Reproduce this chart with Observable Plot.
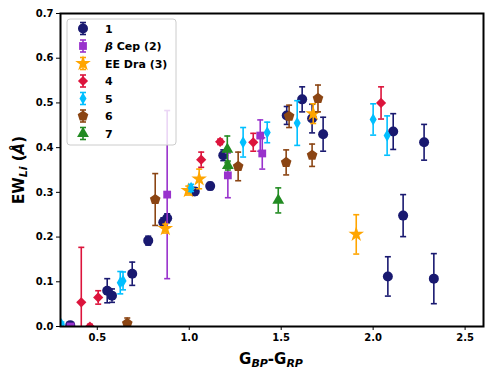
<!DOCTYPE html>
<html><head><meta charset="utf-8">
<script src="https://cdn.jsdelivr.net/npm/d3@7"></script>
<script src="https://cdn.jsdelivr.net/npm/@observablehq/plot@0.6"></script>
<style>body{margin:0;background:#fff;font-family:"DejaVu Sans",sans-serif}</style>
</head><body><div id="chart"></div>
<script>
// Series labels, colours
const seriesNames = ["1", "β Cep (2)", "EE Dra (3)", "4", "5", "6", "7"];
const seriesColors = ["#191970", "#9932CC", "#FFA500", "#DC143C", "#00BFFF", "#8B4513", "#228B22"];

// Series 1
const s1X = [0.353, 0.554, 0.58, 0.69, 0.777, 0.859, 0.88, 1.03, 1.114, 1.185, 1.53, 1.614, 1.668, 1.728, 2.08, 2.109, 2.163, 2.277, 2.33];
const s1Y = [0.003, 0.08, 0.069, 0.118, 0.192, 0.233, 0.242, 0.302, 0.314, 0.383, 0.472, 0.508, 0.465, 0.43, 0.112, 0.436, 0.248, 0.412, 0.107];
const s1E = [0.005, 0.027, 0.015, 0.026, 0.01, 0.01, 0.01, 0.008, 0.008, 0.012, 0.02, 0.028, 0.032, 0.038, 0.044, 0.04, 0.047, 0.04, 0.056];
// Series 2: beta Cep
const s2X = [0.355, 0.88, 1.21, 1.386, 1.397];
const s2Y = [0.0, 0.295, 0.338, 0.427, 0.387];
const s2E = [0.005, 0.188, 0.05, 0.035, 0.035];
// Series 3: EE Dra
const s3X = [0.87, 0.995, 1.054, 1.674, 1.908];
const s3Y = [0.219, 0.304, 0.33, 0.476, 0.206];
const s3E = [0.01, 0.01, 0.022, 0.022, 0.044];
// Series 4
const s4X = [0.413, 0.46, 0.505, 1.065, 1.168, 1.348, 2.043];
const s4Y = [0.054, 0.0, 0.065, 0.373, 0.413, 0.412, 0.5];
const s4E = [0.123, 0.005, 0.015, 0.017, 0.006, 0.02, 0.036];
// Series 5
const s5X = [0.305, 0.625, 0.64, 1.01, 1.293, 1.424, 1.587, 2.0, 2.076];
const s5Y = [0.005, 0.098, 0.102, 0.31, 0.412, 0.434, 0.455, 0.463, 0.427];
const s5E = [0.005, 0.025, 0.02, 0.008, 0.033, 0.023, 0.05, 0.035, 0.044];
// Series 6
const s6X = [0.663, 0.815, 1.266, 1.527, 1.543, 1.668, 1.70];
const s6Y = [0.007, 0.284, 0.358, 0.367, 0.47, 0.383, 0.51];
const s6E = [0.012, 0.058, 0.032, 0.028, 0.025, 0.025, 0.03];
// Series 7
const s7X = [1.207, 1.21, 1.484];
const s7Y = [0.396, 0.36, 0.282];
const s7E = [0.03, 0.01, 0.028];

const xTicks = [0.5, 1.0, 1.5, 2.0, 2.5];
const yTicks = [0.0, 0.1, 0.2, 0.3, 0.4, 0.5, 0.6, 0.7];

// custom symbols
const pentagon = {draw(ctx, size) {
  const R = Math.sqrt(size / Math.PI) * 1.12;
  for (let k = 0; k < 5; k++) {
    const a = -Math.PI / 2 + k * 2 * Math.PI / 5;
    const px = R * Math.cos(a), py = R * Math.sin(a);
    if (k === 0) ctx.moveTo(px, py); else ctx.lineTo(px, py);
  }
  ctx.closePath();
}};
const cap = {draw(ctx, size) {
  const w = Math.sqrt(size / Math.PI);
  ctx.moveTo(-w, 0); ctx.lineTo(w, 0);
}};
const symbols = [d3.symbolCircle, d3.symbolSquare, d3.symbolStar, d3.symbolDiamond2, d3.symbolDiamond, pentagon, d3.symbolTriangle];
const radii = [5, 4.4, 4.9, 4.6, 3.7, 5, 4.4];

const allX = [s1X, s2X, s3X, s4X, s5X, s6X, s7X];
const allY = [s1Y, s2Y, s3Y, s4Y, s5Y, s6Y, s7Y];
const allE = [s1E, s2E, s3E, s4E, s5E, s6E, s7E];

const marks = [];
allX.forEach((xs, i) => {
  const data = xs.map((x, j) => ({x, y: allY[i][j], lo: allY[i][j] - allE[i][j], hi: allY[i][j] + allE[i][j]}));
  const c = seriesColors[i];
  marks.push(Plot.ruleX(data, {x: "x", y1: "lo", y2: "hi", stroke: c, strokeWidth: 1.6, clip: true}));
  marks.push(Plot.dot(data, {x: "x", y: "lo", symbol: cap, r: 3, stroke: c, strokeWidth: 1.6, fill: "none", clip: true}));
  marks.push(Plot.dot(data, {x: "x", y: "hi", symbol: cap, r: 3, stroke: c, strokeWidth: 1.6, fill: "none", clip: true}));
  marks.push(Plot.dot(data, {x: "x", y: "y", symbol: symbols[i], r: radii[i], fill: c, stroke: "none", clip: true}));
});

marks.push(Plot.axisX({ticks: xTicks, tickFormat: d3.format(".1f"), tickSize: 4, tickPadding: 3, label: null}));
marks.push(Plot.axisY({ticks: yTicks, tickFormat: d3.format(".1f"), tickSize: 4, tickPadding: 3, label: null}));
marks.push(Plot.frame({stroke: "black", strokeWidth: 2}));

const svg = Plot.plot({
  width: 491, height: 376,
  marginLeft: 60, marginRight: 8, marginTop: 13, marginBottom: 50,
  x: {domain: [0.3, 2.6]},
  y: {domain: [0, 0.7]},
  style: {fontFamily: "DejaVu Sans", fontSize: "10px", fontWeight: "bold", color: "black", background: "white"},
  marks
});
document.getElementById("chart").appendChild(svg);

const S = d3.select(svg);
// x label
const xl = S.append("text").attr("x", 271).attr("y", 364).attr("text-anchor", "middle")
  .attr("font-size", 15).attr("font-weight", "bold").attr("fill", "black");
xl.append("tspan").text("G");
xl.append("tspan").attr("font-style", "italic").attr("font-size", 11).attr("dy", 3).text("BP");
xl.append("tspan").attr("dy", -3).text("-G");
xl.append("tspan").attr("font-style", "italic").attr("font-size", 11).attr("dy", 3).text("RP");
// y label
const yl = S.append("text").attr("transform", "translate(24,170) rotate(-90)").attr("text-anchor", "middle")
  .attr("font-size", 15).attr("font-weight", "bold").attr("fill", "black");
yl.append("tspan").text("EW");
yl.append("tspan").attr("font-style", "italic").attr("font-size", 11).attr("dy", 3).text("Li");
yl.append("tspan").attr("dy", -3).text(" (");
yl.append("tspan").attr("font-style", "italic").text("Å");
yl.append("tspan").text(")");

// legend
const lg = S.append("g");
lg.append("rect").attr("x", 67).attr("y", 19).attr("width", 109).attr("height", 126).attr("rx", 3)
  .attr("fill", "white").attr("fill-opacity", 0.8).attr("stroke", "#cccccc").attr("stroke-width", 1);
seriesNames.forEach((name, i) => {
  const cy = 28.5 + i * 17.5, cx = 83, c = seriesColors[i];
  const g = lg.append("g");
  g.append("line").attr("x1", cx).attr("x2", cx).attr("y1", cy - 6).attr("y2", cy + 6).attr("stroke", c).attr("stroke-width", 1.6);
  g.append("line").attr("x1", cx - 3).attr("x2", cx + 3).attr("y1", cy - 6).attr("y2", cy - 6).attr("stroke", c).attr("stroke-width", 1.6);
  g.append("line").attr("x1", cx - 3).attr("x2", cx + 3).attr("y1", cy + 6).attr("y2", cy + 6).attr("stroke", c).attr("stroke-width", 1.6);
  g.append("path").attr("transform", `translate(${cx},${cy})`)
    .attr("d", d3.symbol(symbols[i], Math.PI * radii[i] * radii[i])()).attr("fill", c);
  const t = lg.append("text").attr("x", 105).attr("y", cy + 4).attr("text-anchor", "start")
    .attr("font-size", 11).attr("font-weight", "bold").attr("fill", "black");
  if (name.startsWith("β")) {
    t.append("tspan").attr("font-style", "italic").text("β");
    t.append("tspan").text(name.slice(1));
  } else t.text(name);
});
</script>
</body></html>
